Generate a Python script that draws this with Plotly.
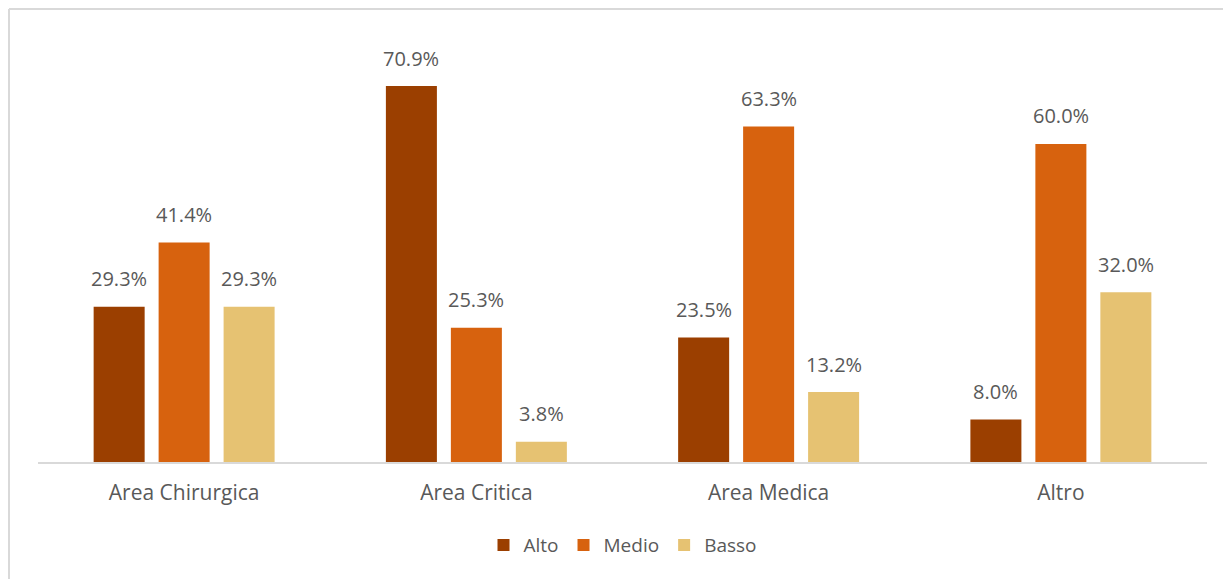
import plotly.graph_objects as go

categories = ["Area Chirurgica", "Area Critica", "Area Medica", "Altro"]
alto = [29.3, 70.9, 23.5, 8.0]
medio = [41.4, 25.3, 63.3, 60.0]
basso = [29.3, 3.8, 13.2, 32.0]
series_names = ["Alto", "Medio", "Basso"]
colors = ["#9B3F00", "#D7620E", "#E6C272"]

fig = go.Figure()
series = [alto, medio, basso]
for name, vals, col in zip(series_names, series, colors):
    fig.add_trace(go.Bar(name=name, x=categories, y=vals, marker_color=col,
                         marker_line_width=0))

font_family = "Open Sans, Calibri, sans-serif"
text_color = "#595959"

# value labels as annotations offset to each bar in the group
slot_px = 65
for i, vals in enumerate(series):
    for c, v in zip(categories, vals):
        fig.add_annotation(x=c, y=v, text=f"{v:.1f}%", showarrow=False,
                           xshift=(i - 1) * slot_px, yshift=28,
                           font=dict(family=font_family, size=20, color=text_color))

W, H = 1223, 571
ml, mr, mt, mb = 30, 24, 32, 117
pw, ph = W - ml - mr, H - mt - mb
top_y = (ph + mt - 1) / ph
left_x = (1 - ml) / pw

fig.update_layout(
    width=W, height=H,
    margin=dict(l=ml, r=mr, t=mt, b=mb),
    plot_bgcolor="white", paper_bgcolor="white",
    barmode="group", bargap=0.333, bargroupgap=0.215,
    showlegend=True,
    legend=dict(orientation="h", x=0.5, xanchor="center", y=-0.197, yanchor="middle",
                font=dict(family=font_family, size=19, color=text_color),
                itemwidth=30, traceorder="normal"),
    xaxis=dict(showline=True, linecolor="#D9D9D9", linewidth=2, ticks="",
               tickfont=dict(family=font_family, size=21, color=text_color),
               ticklabelstandoff=11),
    yaxis=dict(range=[0, 79.6], visible=False, showgrid=False, zeroline=False),
    shapes=[
        dict(type="line", xref="paper", yref="paper", x0=left_x, x1=1.05,
             y0=top_y, y1=top_y, line=dict(color="#D9D9D9", width=2)),
        dict(type="line", xref="paper", yref="paper", x0=left_x, x1=left_x,
             y0=top_y, y1=-0.3, line=dict(color="#D9D9D9", width=2)),
    ],
)

fig.write_html("out.html")
